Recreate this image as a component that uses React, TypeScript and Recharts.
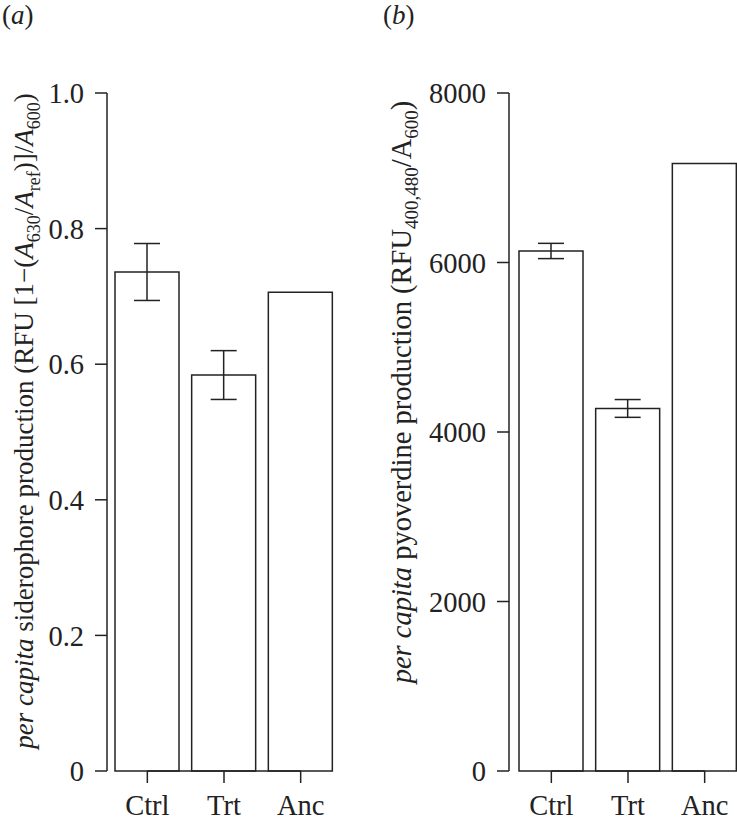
import React from "react";
import {
  BarChart,
  Bar,
  XAxis,
  YAxis,
  ErrorBar,
  ReferenceLine,
} from "recharts";

// values
const categories = ["Ctrl", "Trt", "Anc"];
const sideroMean = [0.736, 0.584, 0.706];
const sideroErr = [0.042, 0.036, null];
const pyoMean = [6136, 4278, 7169];
const pyoErr = [90, 105, null];
const sideroTicks = [0, 0.2, 0.4, 0.6, 0.8, 1.0];
const pyoTicks = [0, 2000, 4000, 6000, 8000];

const FONT = "Liberation Serif, DejaVu Serif, serif";
const INK = "#222";

const sideroData = categories.map((name, i) => ({
  name,
  value: sideroMean[i],
  err: sideroErr[i],
}));
const pyoData = categories.map((name, i) => ({
  name,
  value: pyoMean[i],
  err: pyoErr[i],
}));

const tickStyle = { fill: INK, fontSize: 28.5, fontFamily: FONT };

function Panel({
  data,
  ticks,
  width,
  plotLeft,
  padLeft,
  rightMargin,
  fmt,
}: {
  data: { name: string; value: number; err: number | null }[];
  ticks: number[];
  width: number;
  plotLeft: number;
  padLeft: number;
  rightMargin: number;
  fmt: (v: number) => string;
}) {
  const yAxisWidth = 100;
  return (
    <BarChart
      width={width}
      height={823}
      data={data}
      margin={{ top: 93, right: rightMargin, bottom: 0, left: plotLeft - yAxisWidth }}
      barSize={64}
    >
      <XAxis
        dataKey="name"
        height={52}
        axisLine={false}
        tickSize={12}
        tickMargin={12}
        tickLine={{ stroke: INK, strokeWidth: 1.5 }}
        tick={tickStyle}
        padding={{ left: padLeft, right: 0 }}
      />
      <YAxis
        width={yAxisWidth}
        domain={[ticks[0], ticks[ticks.length - 1]]}
        ticks={ticks}
        tickFormatter={fmt}
        tickSize={12}
        tickMargin={11}
        axisLine={{ stroke: INK, strokeWidth: 1.5 }}
        tickLine={{ stroke: INK, strokeWidth: 1.5 }}
        tick={tickStyle}
      />
      <ReferenceLine
        segment={[
          { x: categories[0], y: 0 },
          { x: categories[categories.length - 1], y: 0 },
        ]}
        stroke={INK}
        strokeWidth={1.5}
      />
      <Bar dataKey="value" fill="#fff" stroke={INK} strokeWidth={1.5} isAnimationActive={false}>
        <ErrorBar dataKey="err" width={13} stroke={INK} strokeWidth={1.5} direction="y" />
      </Bar>
    </BarChart>
  );
}

const subA = { fontSize: 18 };
const subB = { fontSize: 19 };

export default function App() {
  return (
    <div
      style={{
        position: "absolute",
        left: 0,
        top: 0,
        width: 737,
        height: 823,
        overflow: "hidden",
        background: "#fff",
      }}
    >
      <div style={{ position: "absolute", left: 0, top: 0 }}>
        <Panel
          data={sideroData}
          ticks={sideroTicks}
          width={370}
          plotLeft={107}
          padLeft={2}
          rightMargin={31}
          fmt={(v) => (v === 0 ? "0" : v.toFixed(1))}
        />
      </div>
      <div style={{ position: "absolute", left: 370, top: 0 }}>
        <Panel
          data={pyoData}
          ticks={pyoTicks}
          width={374}
          plotLeft={139}
          padLeft={4}
          rightMargin={1}
          fmt={(v) => String(v)}
        />
      </div>
      <svg
        width={737}
        height={823}
        style={{ position: "absolute", left: 0, top: 0, pointerEvents: "none" }}
        fontFamily={FONT}
        fill={INK}
      >
        <text x={2} y={24} fontSize={27}>
          (<tspan fontStyle="italic">a</tspan>)
        </text>
        <text x={383} y={24} fontSize={27}>
          (<tspan fontStyle="italic">b</tspan>)
        </text>
        <text
          x={33}
          y={421}
          transform="rotate(-90, 33, 421)"
          textAnchor="middle"
          fontSize={27}
        >
          <tspan fontStyle="italic">per capita</tspan> siderophore production (RFU [1−(
          <tspan fontStyle="italic">A</tspan>
          <tspan dy={7} style={subA}>630</tspan>
          <tspan dy={-7}>/</tspan>
          <tspan fontStyle="italic">A</tspan>
          <tspan dy={7} style={subA}>ref</tspan>
          <tspan dy={-7}>)]/</tspan>
          <tspan fontStyle="italic">A</tspan>
          <tspan dy={7} style={subA}>600</tspan>
          <tspan dy={-7}>)</tspan>
        </text>
        <text
          x={411}
          y={392}
          transform="rotate(-90, 411, 392)"
          textAnchor="middle"
          fontSize={28.5}
        >
          <tspan fontStyle="italic">per capita</tspan> pyoverdine production (RFU
          <tspan dy={7} style={subB}>400,480</tspan>
          <tspan dy={-7}>/A</tspan>
          <tspan dy={7} style={subB}>600</tspan>
          <tspan dy={-7}>)</tspan>
        </text>
      </svg>
    </div>
  );
}
